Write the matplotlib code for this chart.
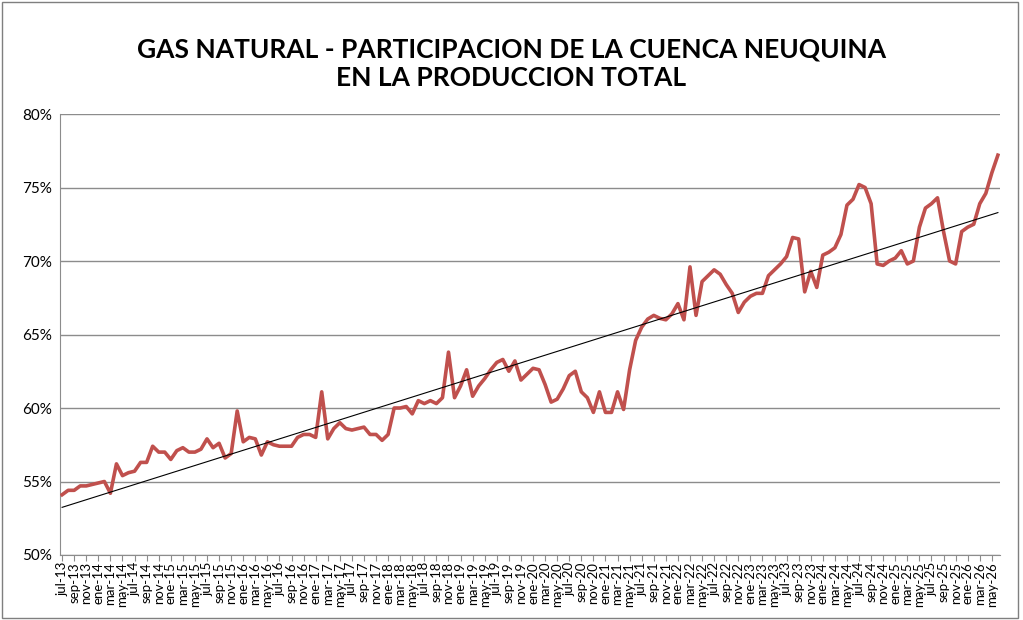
import matplotlib
matplotlib.use("Agg")
import matplotlib.pyplot as plt
import numpy as np

months = ["ene","feb","mar","abr","may","jun","jul","ago","sep","oct","nov","dic"]
labels = []
m, y = 6, 13
for i in range(156):
    labels.append(f"{months[m]}-{y:02d}")
    m += 1
    if m == 12:
        m = 0; y += 1

values = [54.1, 54.4, 54.4, 54.7, 54.7, 54.8, 54.9, 55.0, 54.2, 56.2, 55.4, 55.6, 55.7, 56.3, 56.3,
          57.4, 57.0, 57.0, 56.5, 57.1, 57.3, 57.0, 57.0, 57.2, 57.9, 57.3, 57.6, 56.6, 56.9, 59.8,
          57.7, 58.0, 57.9, 56.8, 57.7, 57.5, 57.4, 57.4, 57.4, 58.0, 58.2, 58.2, 58.0, 61.1, 57.9,
          58.6, 59.0, 58.6, 58.5, 58.6, 58.7, 58.2, 58.2, 57.8, 58.2,
          60.0, 60.0, 60.1, 59.6, 60.5, 60.3, 60.5, 60.3, 60.7, 63.8, 60.7, 61.5, 62.6, 60.8, 61.5,
          62.0, 62.6, 63.1, 63.3, 62.5, 63.2, 61.9, 62.3, 62.7, 62.6, 61.6, 60.4, 60.6, 61.3, 62.2,
          62.5, 61.1, 60.7, 59.7, 61.1, 59.7, 59.7, 61.1, 59.9,
          62.6, 64.6, 65.5, 66.05, 66.3, 66.1, 66.0, 66.4, 67.1, 66.0, 69.6, 66.3, 68.6, 69.0, 69.4,
          69.1, 68.4, 67.8, 66.5, 67.2, 67.6, 67.8, 67.8, 69.0, 69.4, 69.8, 70.3, 71.6, 71.5, 67.9,
          69.3, 68.2, 70.4, 70.6, 70.9, 71.8, 73.8, 74.2, 75.2, 75.0, 73.9, 69.8, 69.7, 70.0, 70.2,
          70.7, 69.8, 70.0, 72.3, 73.6, 73.9, 74.3, 72.0, 70.0, 69.8, 72.0, 72.3, 72.5, 73.9, 74.6,
          76.0, 77.2]

x = np.arange(len(values))
v = np.array(values) / 100.0

fig = plt.figure(figsize=(10.23, 6.2), dpi=100)
ax = fig.add_axes([60/1023, 1-555/620, 940/1023, 441/620])
ax.plot(x, v, color="#C0504D", lw=2.6, zorder=3)
coef = np.polyfit(x, v, 1)
ax.plot(x, np.polyval(coef, x), color="black", lw=0.8, zorder=4)

ax.set_ylim(0.5, 0.8)
ax.set_xlim(-0.35, 155.35)
yt = [0.50, 0.55, 0.60, 0.65, 0.70, 0.75, 0.80]
ax.set_yticks(yt)
ax.set_yticklabels([f"{int(round(t*100))}%" for t in yt], fontsize=11, family="Lato")
ax.yaxis.grid(True, color="#8c8c8c", lw=1)
ax.set_axisbelow(True)
ax.set_xticks(x[::2])
ax.set_xticklabels(labels[::2], rotation=90, fontsize=9.5, family="Lato")
ax.tick_params(axis="y", length=0, pad=6)
ax.tick_params(axis="x", length=4, color="#8c8c8c", pad=1)
for s in ["top", "right"]:
    ax.spines[s].set_visible(False)
ax.spines["left"].set_color("#8c8c8c")
ax.spines["bottom"].set_color("#8c8c8c")

fig.text(0.5, 0.94, "GAS NATURAL - PARTICIPACION DE LA CUENCA NEUQUINA\nEN LA PRODUCCION TOTAL",
         ha="center", va="top", fontsize=19, fontweight="bold", family="Lato", linespacing=1.25)
fig.patches.append(plt.Rectangle((0.002, 0.004), 0.993, 0.992, transform=fig.transFigure,
                                 fill=False, edgecolor="#7f7f7f", lw=1))
fig.savefig("out.png", dpi=100)
